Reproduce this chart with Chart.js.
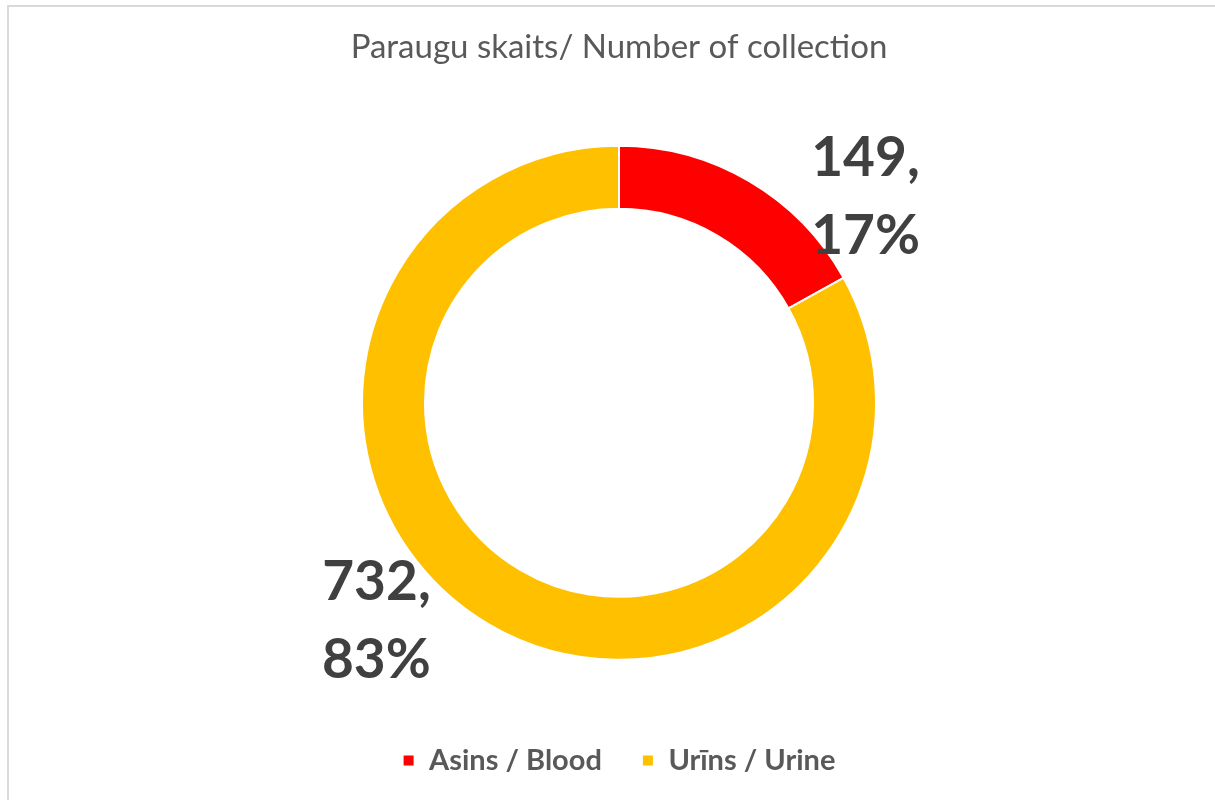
<!DOCTYPE html>
<html>
<head>
<meta charset="utf-8">
<script src="https://cdn.jsdelivr.net/npm/chart.js@4/dist/chart.umd.min.js"></script>
<style>
  html, body { margin: 0; padding: 0; background: #fff; overflow: hidden; }
  .wrap { position: relative; width: 1215px; height: 800px; }
  .frame {
    position: absolute; left: 7px; top: 5px; width: 1230px; height: 820px;
    border-top: 2px solid #d9d9d9; border-left: 2px solid #d9d9d9;
  }
  canvas { position: absolute; left: 0; top: 0; }
</style>
</head>
<body>
<div class="wrap">
  <div class="frame"></div>
  <canvas id="chart" width="1215" height="800"></canvas>
</div>
<script>
// Sample counts by type
const titleText = 'Paraugu skaits/ Number of collection';
const categories = ['Asins / Blood', 'Urīns / Urine'];
const counts = [149, 732];
const colors = ['#ff0000', '#ffc000'];

const fontFamily = 'Lato, "Open Sans", sans-serif';

// Draws "value,\npct%" next to each slice, outside the ring
const sliceLabels = {
    id: 'sliceLabels',
    afterDatasetsDraw(chart) {
        const ctx = chart.ctx;
        const meta = chart.getDatasetMeta(0);
        const total = counts.reduce((a, b) => a + b, 0);
        ctx.save();
        ctx.fillStyle = '#404040';
        ctx.font = 'bold 55px ' + fontFamily;
        ctx.textBaseline = 'middle';
        meta.data.forEach((arc, i) => {
            const { x, y, startAngle, endAngle, outerRadius } = arc.getProps(['x', 'y', 'startAngle', 'endAngle', 'outerRadius'], true);
            const mid = (startAngle + endAngle) / 2;
            const px = x + Math.cos(mid) * outerRadius;
            const py = y + Math.sin(mid) * outerRadius;
            const right = Math.cos(mid) >= 0;
            ctx.textAlign = right ? 'left' : 'right';
            const tx = right ? px + 62 : px - 58;
            const cy = py + (right ? 16 : -3);
            const pct = Math.round(counts[i] / total * 100);
            ctx.fillText(counts[i] + ',', tx, cy - 39);
            ctx.fillText(pct + '%', tx, cy + 39);
        });
        ctx.restore();
    }
};

new Chart(document.getElementById('chart'), {
    type: 'doughnut',
    data: {
        labels: categories,
        datasets: [{
            data: counts,
            backgroundColor: colors,
            borderColor: '#ffffff',
            borderWidth: 2,
            radius: 257,
            cutout: '75.5%'
        }]
    },
    plugins: [sliceLabels],
    options: {
        responsive: false,
        animation: false,
        layout: { padding: { left: 23, right: 0, top: 0, bottom: 15 } },
        plugins: {
            title: {
                display: true,
                text: titleText,
                color: '#595959',
                font: { family: fontFamily, size: 33, weight: 'normal' },
                padding: { top: 28, bottom: 32 }
            },
            legend: {
                position: 'bottom',
                labels: {
                    color: '#595959',
                    font: { family: fontFamily, size: 29, weight: 'bold' },
                    boxWidth: 12,
                    boxHeight: 12,
                    padding: 40
                }
            },
            tooltip: { enabled: false }
        }
    }
});
</script>
</body>
</html>
